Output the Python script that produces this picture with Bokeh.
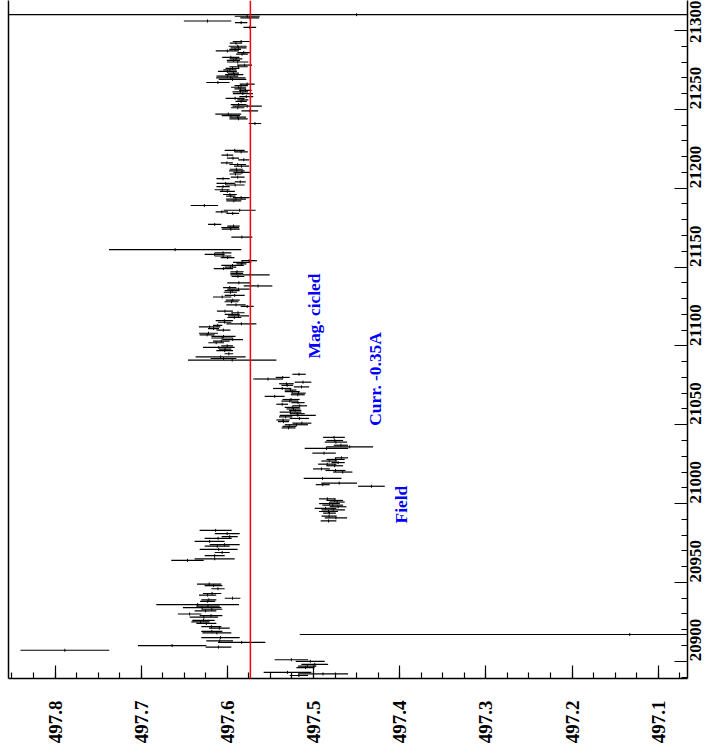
import numpy as np
from math import pi
from bokeh.plotting import figure
from bokeh.models import ColumnDataSource, Range1d, LinearAxis, FixedTicker, Span
from bokeh.core.properties import value
from bokeh.embed import file_html
from bokeh.resources import INLINE

# ---------------- data (run number, measured value, error) ----------------
runs = [21310, 21309, 21308, 21306, 21305, 21302,
        21293, 21292, 21290, 21289, 21288, 21287, 21286, 21285, 21283, 21282,
        21281, 21280, 21278, 21277, 21276, 21275, 21274, 21273, 21272, 21271,
        21270, 21269, 21267, 21266, 21265, 21264, 21263, 21262, 21261, 21260,
        21258, 21257, 21256, 21255, 21253, 21252, 21251, 21249, 21247, 21246,
        21245, 21244, 21241,
        21224, 21223, 21221, 21219, 21218, 21216, 21215, 21214, 21212, 21211,
        21210, 21209, 21207, 21206, 21204, 21203, 21202, 21201, 21199, 21198,
        21196, 21195, 21194, 21193, 21192, 21189, 21186, 21185, 21184, 21177,
        21176, 21175, 21174, 21169, 21161, 21159, 21158, 21157, 21156, 21154,
        21153, 21152, 21151, 21150, 21149, 21147, 21146, 21145, 21144, 21140,
        21138, 21137, 21136, 21135, 21134, 21132, 21131, 21129, 21128, 21126,
        21125, 21122, 21121, 21120, 21119, 21118, 21116, 21115, 21114, 21113,
        21112, 21111, 21110, 21108, 21107, 21106, 21105, 21104, 21103, 21102,
        21100, 21099, 21098, 21097, 21095, 21093, 21092, 21091,
        21082, 21080, 21079, 21077, 21076, 21075, 21074, 21073, 21072, 21071,
        21070, 21069, 21068, 21066, 21065, 21064, 21063, 21062, 21061, 21060,
        21059, 21058, 21057, 21056, 21055, 21054, 21053, 21052, 21051, 21050,
        21049, 21048,
        21042, 21040, 21039, 21037, 21036, 21035, 21032, 21029, 21028, 21027,
        21026, 21025, 21024, 21022, 21021, 21020, 21016, 21013, 21012, 21011,
        21003, 21002, 21001, 21000, 20999, 20998, 20997, 20996, 20995, 20994,
        20992, 20991, 20989,
        20983, 20981, 20979, 20978, 20976, 20974, 20973, 20971, 20969, 20967,
        20965, 20964,
        20949, 20948, 20946, 20943, 20942, 20940, 20939, 20938, 20936, 20935,
        20934, 20933, 20932, 20930, 20929, 20928, 20926, 20925, 20924, 20922,
        20921, 20919, 20918, 20917, 20915, 20913, 20912, 20910, 20909, 20907,
        20901, 20900, 20898, 20897, 20896, 20893, 20892, 20891]

vals = [497.45, 497.577, 497.574, 497.623, 497.584, 497.574,
        497.584, 497.590, 497.588, 497.587, 497.591, 497.600, 497.581, 497.583, 497.596, 497.590,
        497.593, 497.588, 497.580, 497.587, 497.594, 497.597, 497.600, 497.593, 497.592, 497.600,
        497.596, 497.594, 497.611, 497.577, 497.584, 497.587, 497.585, 497.579, 497.585, 497.582,
        497.578, 497.591, 497.582, 497.584, 497.587, 497.577, 497.588, 497.574, 497.599, 497.596,
        497.588, 497.587, 497.568,
        497.5915, 497.584, 497.600, 497.5935, 497.581, 497.6006, 497.588, 497.5836, 497.5896, 497.589,
        497.583, 497.5906, 497.588, 497.605, 497.585, 497.602, 497.591, 497.605, 497.606, 497.600,
        497.597, 497.596, 497.584, 497.590, 497.5925, 497.6267, 497.5857, 497.6064, 497.5938, 497.6147,
        497.5929, 497.5967, 497.596, 497.5832, 497.6606, 497.605, 497.6147, 497.605, 497.5997, 497.5747,
        497.5828, 497.5837, 497.594, 497.5964, 497.6046, 497.5888, 497.5892, 497.5737, 497.5877, 497.5867,
        497.5644, 497.5973, 497.5872, 497.5944, 497.5965, 497.5915, 497.606, 497.5938, 497.5952, 497.590,
        497.577, 497.6028, 497.5877, 497.5944, 497.5871, 497.5919, 497.6035, 497.6031, 497.5837, 497.6113,
        497.6206, 497.6161, 497.6046, 497.6219, 497.6235, 497.6045, 497.606, 497.5938, 497.607, 497.613,
        497.6002, 497.6099, 497.6026, 497.6031, 497.5983, 497.6078, 497.6045, 497.5944,
        497.5168, 497.5358, 497.5528, 497.5122, 497.5315, 497.5305, 497.514, 497.5364, 497.5267, 497.5247,
        497.5174, 497.5183, 497.5451, 497.5261, 497.5276, 497.518, 497.5364, 497.516, 497.5247, 497.5233,
        497.5213, 497.5267, 497.5189, 497.5183, 497.5323, 497.5164, 497.5354, 497.5348, 497.5135, 497.5199,
        497.528, 497.529,
        497.4763, 497.4754, 497.474, 497.4682, 497.458, 497.485, 497.4878, 497.4676, 497.4744, 497.4818,
        497.4715, 497.4841, 497.4754, 497.4908, 497.4745, 497.4661, 497.4895, 497.4702, 497.4893, 497.4328,
        497.4839, 497.4754, 497.4725, 497.4815, 497.4777, 497.4715, 497.4861, 497.4772, 497.4826, 497.4815,
        497.482, 497.474, 497.4826,
        497.6136, 497.6002, 497.5973, 497.6107, 497.6206, 497.6031, 497.6118, 497.6101, 497.606, 497.6147,
        497.6147, 497.6463,
        497.6211, 497.6161, 497.6109, 497.6177, 497.6229, 497.594, 497.6215, 497.6229, 497.6345, 497.6225,
        497.6293, 497.618, 497.6254, 497.6438, 497.619, 497.6273, 497.6277, 497.6312, 497.6244, 497.6186,
        497.6093, 497.618, 497.6122, 497.133, 497.608, 497.6089, 497.5834, 497.6641, 497.6103, 497.7886,
        497.5257, 497.5038, 497.4986, 497.5073, 497.5093, 497.5302, 497.489, 497.517]

errs = [0.45, 0.0145, 0.011, 0.0275, 0.0072, 0.0074,
        0.0097, 0.0072, 0.0105, 0.0093, 0.0068, 0.0135, 0.0074, 0.0068, 0.010, 0.0074,
        0.0077, 0.0124, 0.0087, 0.0106, 0.008, 0.0077, 0.011, 0.0064, 0.0106, 0.0126,
        0.017, 0.016, 0.0135, 0.0087, 0.0077, 0.0087, 0.0068, 0.0072, 0.009, 0.0116,
        0.0081, 0.011, 0.0064, 0.0066, 0.0091, 0.017, 0.0077, 0.0097, 0.015, 0.0106,
        0.0097, 0.0106, 0.0072,
        0.0116, 0.0077, 0.0068, 0.007, 0.0064, 0.007, 0.0097, 0.0087, 0.0077, 0.009,
        0.010, 0.0068, 0.008, 0.0077, 0.0064, 0.0106, 0.011, 0.0077, 0.0087, 0.0087,
        0.008, 0.0054, 0.0097, 0.0116, 0.0087, 0.0159, 0.0186, 0.0072, 0.0074, 0.0077,
        0.0072, 0.0103, 0.0103, 0.0122, 0.0768, 0.0097, 0.0116, 0.0097, 0.008, 0.009,
        0.0106, 0.0058, 0.013, 0.0068, 0.0112, 0.0077, 0.0074, 0.0228, 0.0074, 0.0134,
        0.0166, 0.0077, 0.013, 0.0087, 0.0077, 0.0116, 0.0106, 0.0081, 0.0081, 0.0112,
        0.0075, 0.0093, 0.0077, 0.0087, 0.0122, 0.0081, 0.010, 0.0077, 0.0174, 0.0054,
        0.0124, 0.0064, 0.0081, 0.011, 0.0087, 0.014, 0.0126, 0.012, 0.0097, 0.0091,
        0.0068, 0.0184, 0.0072, 0.0097, 0.005, 0.029, 0.0149, 0.0513,
        0.0077, 0.0081, 0.0174, 0.0097, 0.0085, 0.0068, 0.0089, 0.0106, 0.0068, 0.0087,
        0.0083, 0.0081, 0.0116, 0.010, 0.0097, 0.0077, 0.0068, 0.0085, 0.0087, 0.0081,
        0.0072, 0.0126, 0.0087, 0.0209, 0.0077, 0.0112, 0.0077, 0.0064, 0.011, 0.0135,
        0.0081, 0.0081,
        0.0126, 0.0097, 0.013, 0.0083, 0.0271, 0.0252, 0.0136, 0.0077, 0.0106, 0.0091,
        0.0077, 0.0106, 0.0097, 0.0097, 0.0116, 0.0112, 0.0219, 0.0207, 0.0081, 0.0155,
        0.0097, 0.0097, 0.0087, 0.012, 0.012, 0.0097, 0.0126, 0.0136, 0.011, 0.0074,
        0.0087, 0.013, 0.0091,
        0.0186, 0.0145, 0.0093, 0.0157, 0.0174, 0.0174, 0.0145, 0.022, 0.0087, 0.0116,
        0.0232, 0.0188,
        0.0141, 0.0103, 0.0077, 0.0106, 0.010, 0.0091, 0.0087, 0.0087, 0.048, 0.0136,
        0.0223, 0.0122, 0.0126, 0.0136, 0.0132, 0.0165, 0.013, 0.0106, 0.0116, 0.0116,
        0.012, 0.0122, 0.0168, 0.383, 0.0223, 0.0155, 0.0275, 0.0397, 0.0149, 0.0515,
        0.0194, 0.0168, 0.0155, 0.0106, 0.0106, 0.0277, 0.029, 0.0106]

mean_value = 497.5733

value_ticks = [497.1, 497.2, 497.3, 497.4, 497.5, 497.6, 497.7, 497.8]
run_ticks = [20900, 20950, 21000, 21050, 21100, 21150, 21200, 21250, 21300]

notes = ["Mag. cicled", "Curr. -0.35A", "Field"]
note_vals = [497.4994, 497.4285, 497.3989]
note_runs = [21092.0, 21049.4, 20987.4]

value_range = (497.854, 497.066)
run_range = (20889.1, 21319.0)

# ---------------- figure ----------------
r = np.array(runs, dtype=float)
v = np.array(vals)
e = np.array(errs)
src = ColumnDataSource(dict(run=r, val=v, lo=v - e, hi=v + e))

p = figure(frame_width=679, frame_height=678, output_backend="svg", toolbar_location=None,
           x_range=Range1d(*value_range), y_range=Range1d(*run_range),
           y_axis_location="right", min_border_left=8, min_border_top=0,
           min_border_right=0, min_border_bottom=0)
p.outline_line_color = None
p.grid.visible = False
p.background_fill_color = "white"

font = "Liberation Serif"

xa = p.xaxis[0]
xa.ticker = FixedTicker(ticks=value_ticks,
                        minor_ticks=list(np.round(np.arange(497.05, 497.851, 0.025), 3)))
xa.major_label_orientation = pi / 2
xa.major_label_text_font = font
xa.major_label_text_font_style = "bold"
xa.major_label_text_font_size = "19px"
xa.major_label_text_color = "black"
xa.major_label_standoff = 22
xa.major_tick_in = 13
xa.major_tick_out = 0
xa.minor_tick_in = 6
xa.minor_tick_out = 0
xa.axis_line_width = 1.5
xa.major_tick_line_width = 1.2
xa.minor_tick_line_width = 1.2

ya = p.yaxis[0]
ya.ticker = FixedTicker(ticks=run_ticks, minor_ticks=list(range(20890, 21311, 10)))
ya.major_label_orientation = pi / 2
ya.major_label_text_font = font
ya.major_label_text_font_style = "bold"
ya.major_label_text_font_size = "17px"
ya.major_label_text_color = "black"
ya.major_label_standoff = 8
ya.major_tick_in = 13
ya.major_tick_out = 0
ya.minor_tick_in = 6
ya.minor_tick_out = 0
ya.axis_line_width = 1.5
ya.major_tick_line_width = 1.2
ya.minor_tick_line_width = 1.2

left = LinearAxis(ticker=FixedTicker(ticks=[]), major_tick_in=0, major_tick_out=0,
                  minor_tick_in=0, minor_tick_out=0, major_label_text_font_size="0px",
                  major_label_standoff=0, axis_line_width=1.5)
p.add_layout(left, "left")

p.segment(x0="lo", y0="run", x1="hi", y1="run", source=src,
          line_color="black", line_width=1.2)
p.scatter(x="val", y="run", source=src, marker="dash", angle=pi / 2, size=3,
          line_color="black", line_width=1)

p.add_layout(Span(location=mean_value, dimension="height", line_color="red", line_width=1.5))

p.text(x=note_vals, y=note_runs, text=notes, angle=pi / 2, text_align="left",
       text_baseline="alphabetic", text_color="blue", text_font=value(font),
       text_font_style="bold", text_font_size="17.4px")

open("out.html", "w").write(file_html(p, INLINE))
